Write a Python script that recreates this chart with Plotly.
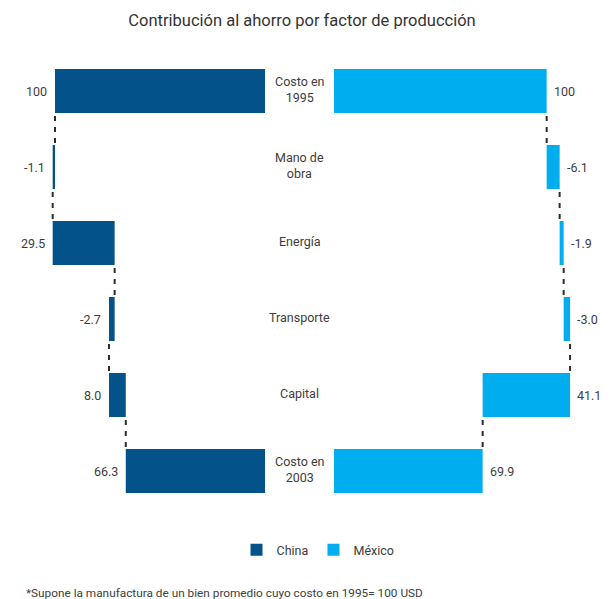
import plotly.graph_objects as go

# Rows of the waterfall, top to bottom
categories = ["Costo en<br>1995", "Mano de<br>obra", "Energía", "Transporte", "Capital", "Costo en<br>2003"]

# Starting cost (1995 = 100) and the saving contributed by each factor
start_cost = 100
china_savings = [-1.1, 29.5, -2.7, 8.0]
mexico_savings = [-6.1, -1.9, -3.0, 41.1]

CHINA_COLOR = "#03528A"
MEXICO_COLOR = "#00AEEF"
TEXT_COLOR = "#3D3D3D"
FONT = "Roboto, 'Open Sans', sans-serif"

W, H = 612, 599
PLOT_TOP, PLOT_BOTTOM = 53, 509
BAR_W = 0.58


def paper_y(py):
    """Pixel row -> paper coordinate (paper spans the plot area)."""
    return (PLOT_BOTTOM - py) / (PLOT_BOTTOM - PLOT_TOP)


def waterfall_pieces(savings):
    """Cumulative cost levels, bar bases/lengths and connector positions."""
    levels = [start_cost]
    for s in savings:
        levels.append(round(levels[-1] - s, 4))
    final = levels[-1]
    bases = [0]
    lengths = [start_cost]
    for i in range(1, len(levels)):
        lo, hi = sorted((levels[i - 1], levels[i]))
        bases.append(lo)
        lengths.append(hi - lo)
    bases.append(0)
    lengths.append(final)
    # label anchor: the far end of each bar
    ends = [b + l for b, l in zip(bases, lengths)]
    labels = [f"{start_cost:g}"] + [f"{s:.1f}" for s in savings] + [f"{final:.1f}"]
    return levels, bases, lengths, ends, labels


rows = list(range(len(categories)))

fig = go.Figure()


def add_panel(savings, color, name, xaxis, yaxis, side):
    levels, bases, lengths, ends, labels = waterfall_pieces(savings)
    fig.add_trace(go.Bar(
        y=rows, x=lengths, base=bases, orientation="h",
        marker=dict(color=color, line=dict(width=0)),
        width=BAR_W, name=name, xaxis=xaxis, yaxis=yaxis,
        hoverinfo="skip",
    ))
    # dashed connectors between consecutive bars at the running level
    cx, cy = [], []
    for k, lvl in enumerate(levels):
        cx += [lvl, lvl, None]
        cy += [k + BAR_W / 2 + 0.04, k + 1 - BAR_W / 2, None]
    fig.add_trace(go.Scatter(
        x=cx, y=cy, mode="lines", xaxis=xaxis, yaxis=yaxis,
        line=dict(color="#2B2B2B", width=2, dash="5px,6px"),
        showlegend=False, hoverinfo="skip",
    ))
    xref = "x" if xaxis == "x" else "x2"
    for r, e, lab in zip(rows, ends, labels):
        fig.add_annotation(
            x=e, y=r, xref=xref, yref="y", text=lab, showarrow=False,
            xanchor="right" if side == "left" else "left",
            xshift=-6 if side == "left" else 5,
            font=dict(family=FONT, size=12.5, color=TEXT_COLOR),
        )


add_panel(china_savings, CHINA_COLOR, "China", "x", "y", "left")
add_panel(mexico_savings, MEXICO_COLOR, "México", "x2", "y", "right")

# category names in the centre column
for r, c in zip(rows, categories):
    fig.add_annotation(
        x=299.5 / W, y=r, xref="paper", yref="y", text=c, showarrow=False,
        xanchor="center", yanchor="middle", align="center", yshift=2,
        font=dict(family=FONT, size=12.5, color=TEXT_COLOR),
    )

fig.add_annotation(
    x=24 / W, y=paper_y(593), xref="paper", yref="paper",
    text="*Supone la manufactura de un bien promedio cuyo costo en 1995= 100 USD",
    showarrow=False, xanchor="left", yanchor="middle",
    font=dict(family=FONT, size=11.8, color=TEXT_COLOR),
)

axis_common = dict(showgrid=False, zeroline=False, showticklabels=False,
                   showline=False, ticks="", fixedrange=True)

fig.update_layout(
    width=W, height=H,
    margin=dict(l=0, r=0, t=PLOT_TOP, b=H - PLOT_BOTTOM),
    paper_bgcolor="white", plot_bgcolor="white",
    font=dict(family=FONT, color=TEXT_COLOR),
    title=dict(text="Contribución al ahorro por factor de producción",
               x=302 / W, xanchor="center", y=1 - 20 / H, yanchor="middle",
               font=dict(family=FONT, size=16.5, color="#333333")),
    xaxis=dict(domain=[13 / W, 265 / W], range=[120, 0], **axis_common),
    xaxis2=dict(domain=[334 / W, 589.2 / W], range=[0, 120], anchor="y", **axis_common),
    yaxis=dict(range=[len(categories) - 0.5, -0.5], **axis_common),
    barmode="overlay",
    showlegend=True,
    legend=dict(orientation="h", x=318 / W, xanchor="center",
                y=paper_y(550), yanchor="middle",
                font=dict(family=FONT, size=12.5, color=TEXT_COLOR),
                itemwidth=30),
)

fig.write_html("out.html")
